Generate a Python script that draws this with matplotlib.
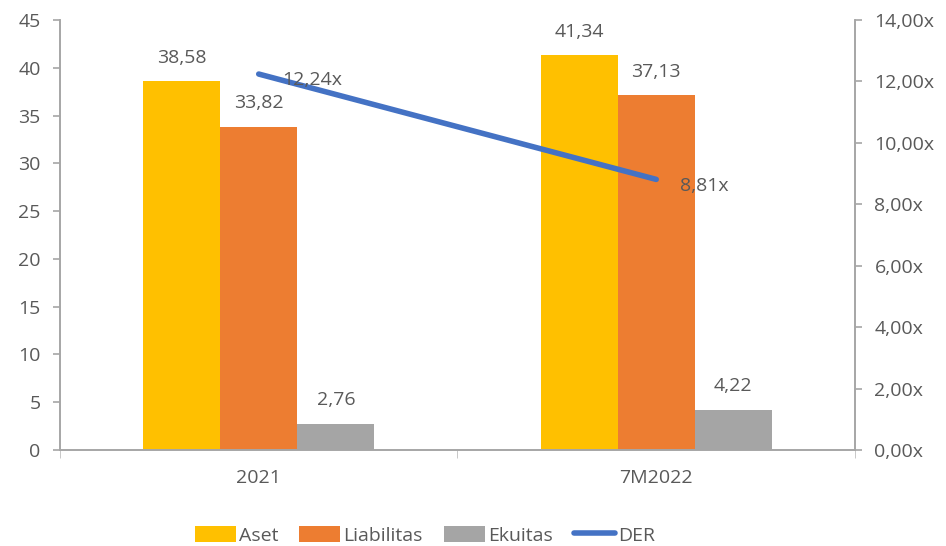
import matplotlib.pyplot as plt
import numpy as np

categories = ['2021', '7M2022']
aset = [38.58, 41.34]
liabilitas = [33.82, 37.13]
ekuitas = [2.76, 4.22]
der = [12.24, 8.81]

grey_txt = '#595959'
plt.rcParams['font.family'] = ['Open Sans', 'DejaVu Sans']
fs = 14

fig = plt.figure(figsize=(9.46, 5.46), dpi=100)
ax = fig.add_axes([0.0634, 0.1758, 0.8404, 0.7876])
ax2 = ax.twinx()

x = np.arange(len(categories))
w = 0.194
series = [(aset, '#FFC000', 'Aset'), (liabilitas, '#ED7D31', 'Liabilitas'), (ekuitas, '#A5A5A5', 'Ekuitas')]
handles = []
for i, (vals, col, lab) in enumerate(series):
    bars = ax.bar(x + (i - 1) * w, vals, w, color=col, label=lab, zorder=2)
    handles.append(bars)
    for xi, v in zip(x + (i - 1) * w, vals):
        ax.text(xi, v + 1.5, f'{v:.2f}'.replace('.', ','), ha='center', va='bottom',
                color=grey_txt, fontsize=fs)

line, = ax2.plot(x, der, color='#4472C4', lw=4, solid_capstyle='round', label='DER', zorder=3)
for xi, v in zip(x, der):
    ax2.text(xi + 0.06, v - 0.2, f'{v:.2f}x'.replace('.', ','), ha='left', va='center',
             color=grey_txt, fontsize=fs)
handles.append(line)

ax.set_xlim(-0.5, 1.5)
ax.set_ylim(0, 45)
ax.set_yticks(range(0, 46, 5))
ax2.set_ylim(0, 14)
ax2.set_yticks(np.arange(0, 14.1, 2))
ax2.set_yticklabels([f'{t:.2f}x'.replace('.', ',') for t in np.arange(0, 14.1, 2)])

ax.set_xticks(x)
ax.set_xticklabels(categories)
ax.set_xticks([-0.5, 0.5, 1.5], minor=True)
ax.tick_params(axis='x', which='major', length=0, pad=14, colors=grey_txt, labelsize=fs)
ax.tick_params(axis='x', which='minor', length=6, color='#BFBFBF')

for a in (ax, ax2):
    for s in a.spines.values():
        s.set_color('#A6A6A6')
        s.set_linewidth(1.2)
    a.spines['top'].set_visible(False)
    a.tick_params(axis='y', labelcolor=grey_txt, color='#A6A6A6', length=5,
                  width=1.2, pad=9, labelsize=fs)

fig.legend(handles=handles, labels=['Aset', 'Liabilitas', 'Ekuitas', 'DER'],
           loc='lower center', bbox_to_anchor=(0.449, -0.03), ncol=4, frameon=False,
           fontsize=fs, handlelength=2.1, handleheight=0.9, columnspacing=1.1,
           handletextpad=0.15, labelcolor=grey_txt)

fig.savefig('out.png', dpi=100)
